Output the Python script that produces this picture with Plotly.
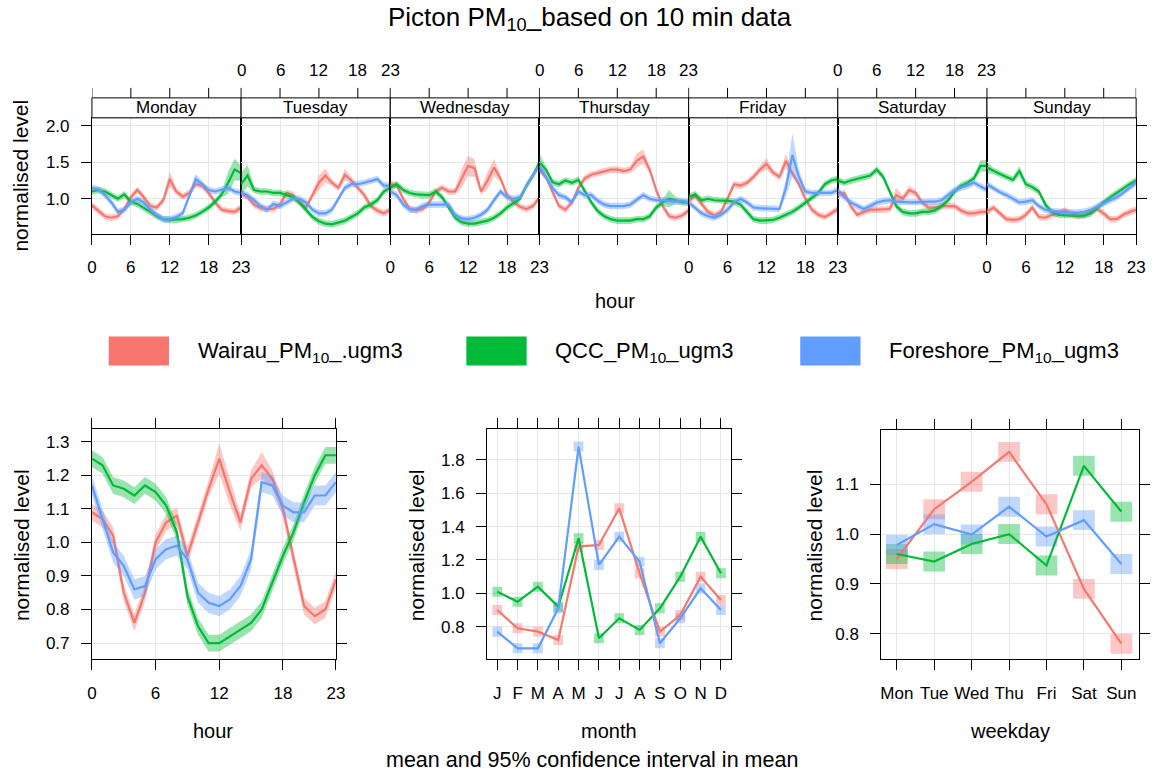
import plotly.graph_objects as go

# ---------------- DATA ----------------
days = ["Monday", "Tuesday", "Wednesday", "Thursday", "Friday", "Saturday", "Sunday"]
hours = list(range(24))
hour_ticks = [0, 6, 12, 18, 23]
series_names = ["Wairau_PM<sub>10</sub>_.ugm3", "QCC_PM<sub>10</sub>_ugm3", "Foreshore_PM<sub>10</sub>_ugm3"]

# day x hour means (Mon..Sun, 24 h each)
wairau_dayhour = [
    0.91, 0.83, 0.76, 0.74, 0.76, 0.86, 1.02, 1.12, 1.02, 0.90, 0.88, 0.98, 1.27, 1.10, 1.03, 1.08, 1.20, 1.18, 1.08, 0.95, 0.85, 0.83, 0.82, 0.88,
    1.08, 1.02, 0.92, 0.87, 0.86, 0.86, 0.92, 1.08, 1.05, 0.95, 0.88, 1.05, 1.22, 1.32, 1.22, 1.15, 1.33, 1.25, 1.15, 1.05, 0.90, 0.84, 0.80, 0.85,
    1.20, 1.18, 1.00, 0.86, 0.84, 0.86, 0.95, 1.10, 1.15, 1.10, 1.10, 1.28, 1.45, 1.42, 1.10, 1.25, 1.43, 1.28, 1.05, 0.96, 0.89, 0.86, 0.90, 1.02,
    1.40, 1.30, 1.10, 0.90, 0.85, 0.95, 1.15, 1.28, 1.33, 1.35, 1.38, 1.40, 1.40, 1.38, 1.40, 1.52, 1.58, 1.40, 1.12, 0.90, 0.76, 0.74, 0.77, 0.84,
    0.97, 1.04, 0.93, 0.82, 0.77, 0.82, 1.00, 1.20, 1.18, 1.22, 1.30, 1.40, 1.48, 1.36, 1.30, 1.52, 1.35, 1.20, 1.00, 0.85, 0.78, 0.75, 0.80, 0.86,
    1.05, 1.08, 0.90, 0.78, 0.82, 0.85, 0.85, 0.85, 0.86, 1.05, 1.00, 1.12, 1.08, 0.95, 0.88, 0.88, 0.90, 0.90, 0.90, 0.84, 0.80, 0.80, 0.82, 0.82,
    0.82, 0.88, 0.80, 0.72, 0.71, 0.72, 0.78, 0.88, 0.75, 0.74, 0.78, 0.80, 0.84, 0.80, 0.76, 0.78, 0.82, 0.86, 0.80, 0.72, 0.72, 0.78, 0.82, 0.85,
]
qcc_dayhour = [
    1.10, 1.12, 1.10, 1.05, 1.00, 1.06, 0.96, 0.93, 0.88, 0.82, 0.76, 0.72, 0.71, 0.71, 0.72, 0.74, 0.77, 0.82, 0.88, 0.96, 1.06, 1.22, 1.40, 1.35,
    1.20, 1.32, 1.12, 1.10, 1.10, 1.08, 1.08, 1.05, 1.02, 0.95, 0.85, 0.75, 0.69, 0.66, 0.65, 0.67, 0.70, 0.75, 0.80, 0.88, 0.92, 0.98, 1.10, 1.15,
    1.15, 1.20, 1.12, 1.08, 1.06, 1.05, 1.05, 1.10, 1.02, 0.88, 0.74, 0.68, 0.66, 0.66, 0.68, 0.70, 0.74, 0.80, 0.88, 0.94, 1.00, 1.18, 1.32, 1.50,
    1.50, 1.40, 1.23, 1.20, 1.25, 1.22, 1.26, 1.10, 0.95, 0.83, 0.76, 0.72, 0.70, 0.70, 0.70, 0.72, 0.72, 0.76, 0.88, 0.95, 1.00, 0.98, 0.95, 0.95,
    1.02, 1.06, 0.98, 1.00, 0.98, 0.98, 0.97, 0.96, 0.92, 0.82, 0.72, 0.70, 0.70, 0.71, 0.74, 0.78, 0.82, 0.88, 0.95, 1.02, 1.08, 1.20, 1.25, 1.27,
    1.25, 1.22, 1.25, 1.27, 1.30, 1.32, 1.40, 1.30, 1.10, 0.90, 0.82, 0.80, 0.80, 0.82, 0.82, 0.84, 0.90, 0.98, 1.10, 1.18, 1.22, 1.28, 1.45, 1.45,
    1.43, 1.38, 1.34, 1.30, 1.26, 1.38, 1.20, 1.16, 1.10, 0.92, 0.82, 0.78, 0.77, 0.77, 0.77, 0.77, 0.80, 0.88, 0.95, 1.02, 1.08, 1.15, 1.20, 1.25,
]
foreshore_dayhour = [
    1.15, 1.13, 1.05, 0.95, 0.82, 0.85, 0.95, 1.00, 0.95, 0.85, 0.78, 0.72, 0.72, 0.75, 0.80, 1.05, 1.27, 1.20, 1.12, 1.10, 1.12, 1.15, 1.10, 1.08,
    1.08, 1.05, 0.98, 0.90, 0.85, 0.93, 0.90, 0.95, 1.00, 1.00, 0.95, 0.85, 0.80, 0.80, 0.85, 1.00, 1.15, 1.20, 1.20, 1.22, 1.25, 1.27, 1.18, 1.18,
    1.10, 1.05, 0.92, 0.85, 0.85, 0.90, 0.92, 0.92, 0.92, 0.92, 0.78, 0.73, 0.72, 0.74, 0.78, 0.85, 0.98, 1.10, 1.02, 1.00, 1.02, 1.18, 1.32, 1.45,
    1.45, 1.30, 1.15, 1.05, 1.02, 0.95, 1.10, 1.05, 1.05, 0.97, 0.92, 0.90, 0.90, 0.90, 0.92, 0.98, 1.05, 1.00, 0.98, 0.98, 0.97, 0.96, 0.97, 0.95,
    0.95, 0.88, 0.80, 0.76, 0.74, 0.78, 0.85, 0.95, 1.00, 0.95, 0.88, 0.87, 0.87, 0.87, 0.86, 1.15, 1.60, 1.30, 1.10, 1.08, 1.08, 1.08, 1.08, 1.12,
    1.12, 1.02, 0.95, 0.90, 0.86, 0.90, 0.95, 0.97, 0.98, 0.96, 0.95, 0.95, 0.95, 0.96, 0.96, 0.96, 0.98, 1.05, 1.12, 1.15, 1.18, 1.22, 1.17, 1.12,
    1.20, 1.14, 1.09, 1.05, 1.00, 0.95, 0.96, 0.98, 0.90, 0.85, 0.83, 0.82, 0.81, 0.81, 0.81, 0.82, 0.85, 0.90, 0.94, 0.98, 1.02, 1.08, 1.15, 1.22,
]
# 95% CI half widths for the day x hour panel: typical value + wider points (index = day*24 + hour)
dayhour_ci_base = [0.045, 0.045, 0.045]
wairau_dayhour_ci_wide = {12: 0.10, 36: 0.10, 37: 0.10, 40: 0.08, 59: 0.13, 60: 0.14, 61: 0.12, 63: 0.12, 64: 0.12,
                          87: 0.10, 88: 0.10, 108: 0.08, 111: 0.10, 129: 0.10, 131: 0.06}
qcc_dayhour_ci_wide = {21: 0.15, 22: 0.15, 23: 0.10, 24: 0.15, 25: 0.15, 72: 0.12, 92: 0.12, 142: 0.08, 143: 0.08,
                       144: 0.08, 149: 0.07}
foreshore_dayhour_ci_wide = {16: 0.07, 72: 0.08, 111: 0.12, 112: 0.30, 113: 0.10}

# hour panel
wairau_hour = [1.09, 1.07, 1.02, 0.85, 0.76, 0.85, 1.00, 1.06, 1.08, 0.96, 1.06, 1.16, 1.25, 1.15, 1.06, 1.19, 1.23, 1.19, 1.10, 0.95, 0.81, 0.78, 0.80, 0.89]
qcc_hour = [1.25, 1.23, 1.17, 1.16, 1.14, 1.17, 1.15, 1.11, 1.03, 0.84, 0.75, 0.70, 0.70, 0.72, 0.74, 0.76, 0.80, 0.88, 0.96, 1.03, 1.12, 1.20, 1.26, 1.26]
foreshore_hour = [1.17, 1.07, 0.97, 0.93, 0.86, 0.87, 0.95, 0.98, 0.99, 0.95, 0.85, 0.82, 0.81, 0.83, 0.87, 0.95, 1.18, 1.17, 1.11, 1.09, 1.09, 1.14, 1.14, 1.18]
hour_ci_base = [0.025, 0.025, 0.03]
wairau_hour_ci_wide = {12: 0.045, 13: 0.04, 16: 0.04}

# month panel
months = ["J", "F", "M", "A", "M", "J", "J", "A", "S", "O", "N", "D"]
wairau_month = [0.90, 0.79, 0.77, 0.72, 1.28, 1.29, 1.51, 1.12, 0.77, 0.87, 1.10, 0.96]
qcc_month = [1.01, 0.95, 1.04, 0.92, 1.33, 0.73, 0.85, 0.78, 0.91, 1.10, 1.34, 1.12]
foreshore_month = [0.77, 0.67, 0.67, 0.91, 1.88, 1.17, 1.34, 1.19, 0.70, 0.85, 1.03, 0.90]
month_ci = [0.03, 0.03, 0.03]

# weekday panel
weekdays = ["Mon", "Tue", "Wed", "Thu", "Fri", "Sat", "Sun"]
wairau_weekday = [0.95, 1.05, 1.105, 1.165, 1.06, 0.89, 0.78]
qcc_weekday = [0.96, 0.945, 0.98, 1.00, 0.937, 1.137, 1.045]
foreshore_weekday = [0.978, 1.02, 0.999, 1.055, 0.995, 1.028, 0.94]
weekday_ci = [0.02, 0.02, 0.02]

# ---------------- STYLE ----------------
W, H = 1157, 776
COLORS = [(248, 118, 109), (0, 186, 56), (97, 156, 255)]
FONT = "Liberation Sans, Arial, sans-serif"
TICK = 17


def fx(p):
    return p / W


def fy(p):
    return 1 - p / H


def col(c, a=1.0):
    return f"rgba({c[0]},{c[1]},{c[2]},{a})"


fig = go.Figure()


def add_band_line(xs, mean, hw, c, xa, ya):
    lo = [m - h for m, h in zip(mean, hw)]
    hi = [m + h for m, h in zip(mean, hw)]
    fig.add_trace(go.Scatter(x=list(xs) + list(xs)[::-1], y=hi + lo[::-1], fill="toself",
                             fillcolor=col(c, 0.4), line=dict(width=0), mode="lines",
                             xaxis=xa, yaxis=ya, hoverinfo="skip"))
    fig.add_trace(go.Scatter(x=list(xs), y=list(mean), mode="lines", line=dict(color=col(c), width=2.2),
                             xaxis=xa, yaxis=ya))


def add_rects_line(xs, mean, hw, c, xa, ya, width):
    lo = [m - h for m, h in zip(mean, hw)]
    fig.add_trace(go.Bar(x=list(xs), y=[2 * h for h in hw], base=lo, width=width,
                         marker=dict(color=col(c, 0.4), line=dict(width=0)), xaxis=xa, yaxis=ya))
    fig.add_trace(go.Scatter(x=list(xs), y=list(mean), mode="lines", line=dict(color=col(c), width=2.2),
                             xaxis=xa, yaxis=ya))


def label(text, x, y, size, angle=0, xanchor="center", xref="paper"):
    return dict(text=text, xref=xref, yref="paper", x=x, y=y, textangle=angle, showarrow=False,
                xanchor=xanchor, yanchor="middle", font=dict(size=size))


base_axis = dict(showline=True, linecolor="black", linewidth=1, mirror=True, showgrid=True,
                 gridcolor="#E6E6E6", gridwidth=1, zeroline=False, ticks="outside", ticklen=10,
                 tickcolor="black", tickwidth=1, tickfont=dict(size=TICK, color="black", family=FONT),
                 ticklabelstandoff=8)

layout = dict(width=W, height=H, margin=dict(l=0, r=0, t=0, b=0), paper_bgcolor="white",
              plot_bgcolor="white", showlegend=False, barmode="overlay",
              font=dict(family=FONT, color="black"))

shapes = []
annotations = []

# ---------- top panel: day x hour ----------
dh_series = [wairau_dayhour, qcc_dayhour, foreshore_dayhour]
dh_wide = [wairau_dayhour_ci_wide, qcc_dayhour_ci_wide, foreshore_dayhour_ci_wide]
panel_w = 151
for i, day in enumerate(days):
    sfx = "" if i == 0 else str(i + 1)
    xa, ya = "x" + sfx, "y" + sfx
    x0 = 88 + panel_w * i
    layout["xaxis" + sfx] = dict(base_axis, domain=[fx(x0), fx(x0 + panel_w)], range=[0, 23],
                                 tickvals=hour_ticks, showticklabels=(i % 2 == 0), anchor=ya)
    yax = dict(base_axis, domain=[fy(233), fy(117)], range=[0.521, 2.11], tickvals=[1.0, 1.5, 2.0],
               tickformat=".1f", anchor=xa, showticklabels=(i == 0))
    if 0 < i < 6:
        yax["ticks"] = ""
    if i == 6:
        yax["side"] = "right"
    layout["yaxis" + sfx] = yax
    for s in range(3):
        vals = dh_series[s][24 * i:24 * (i + 1)]
        hw = [dh_wide[s].get(24 * i + h, dayhour_ci_base[s]) for h in hours]
        add_band_line(hours, vals, hw, COLORS[s], xa, ya)
    # strip
    shapes.append(dict(type="rect", xref=xa + " domain", x0=0, x1=1, yref="paper", y0=fy(117), y1=fy(97),
                       line=dict(color="black", width=1), fillcolor="white"))
    annotations.append(label(day, 0.5, fy(107), 17, xref=xa + " domain"))
    # ticks above strip
    for t in hour_ticks:
        shapes.append(dict(type="line", xref=xa, x0=t, x1=t, yref="paper", y0=fy(97), y1=fy(87),
                           line=dict(color="black", width=1)))
        if i % 2 == 1:
            annotations.append(label(str(t), t, fy(70), TICK, xref=xa))

annotations.append(label("normalised level", fx(16), fy(175), 21, angle=-90))
annotations.append(label("hour", fx(617), fy(300), 20))

# ---------- legend ----------
leg_rect_x = [105, 467, 805]
for s in range(3):
    shapes.append(dict(type="rect", xref="paper", yref="paper", x0=fx(leg_rect_x[s]), x1=fx(leg_rect_x[s] + 61),
                       y0=fy(365), y1=fy(336), fillcolor=col(COLORS[s]), line=dict(width=0)))
    annotations.append(label(series_names[s], fx(leg_rect_x[s] + 88), fy(351), 22, xanchor="left"))

# ---------- hour panel ----------
hour_series = [wairau_hour, qcc_hour, foreshore_hour]
layout["xaxis8"] = dict(base_axis, domain=[fx(88), fx(335)], range=[0, 23], tickvals=hour_ticks,
                        anchor="y8", mirror="ticks")
layout["yaxis8"] = dict(base_axis, domain=[fy(659), fy(429)], range=[0.652, 1.337],
                        tickvals=[0.7, 0.8, 0.9, 1.0, 1.1, 1.2, 1.3], tickformat=".1f", anchor="x8",
                        mirror="ticks")
for s in range(3):
    hw = [(wairau_hour_ci_wide.get(h, hour_ci_base[s]) if s == 0 else hour_ci_base[s]) for h in hours]
    add_band_line(hours, hour_series[s], hw, COLORS[s], "x8", "y8")

# ---------- month panel ----------
month_series = [wairau_month, qcc_month, foreshore_month]
month_x = list(range(1, 13))
layout["xaxis9"] = dict(base_axis, domain=[fx(488), fx(735)], range=[0.5, 12.5], tickvals=month_x,
                        ticktext=months, anchor="y9", mirror="ticks")
layout["yaxis9"] = dict(base_axis, domain=[fy(659), fy(429)], range=[0.605, 1.983],
                        tickvals=[0.8, 1.0, 1.2, 1.4, 1.6, 1.8], tickformat=".1f", anchor="x9",
                        mirror="ticks")
for s in range(3):
    add_rects_line(month_x, month_series[s], [month_ci[s]] * 12, COLORS[s], "x9", "y9", 0.48)

# ---------- weekday panel ----------
weekday_series = [wairau_weekday, qcc_weekday, foreshore_weekday]
wd_x = list(range(1, 8))
layout["xaxis10"] = dict(base_axis, domain=[fx(887), fx(1148)], range=[0.585, 7.475], tickvals=wd_x,
                         ticktext=weekdays, anchor="y10", mirror="ticks")
layout["yaxis10"] = dict(base_axis, domain=[fy(659), fy(430)], range=[0.749, 1.208],
                         tickvals=[0.8, 0.9, 1.0, 1.1], tickformat=".1f", anchor="x10", mirror="ticks")
for s in range(3):
    add_rects_line(wd_x, weekday_series[s], [weekday_ci[s]] * 7, COLORS[s], "x10", "y10", 0.58)

for (txt, x, y) in [("normalised level", 16, 545), ("normalised level", 416, 545), ("normalised level", 819, 545)]:
    annotations.append(label(txt, fx(x), fy(y), 21, angle=-90))
for (txt, x, y) in [("hour", 211, 731), ("month", 611, 731), ("weekday", 1017, 731)]:
    annotations.append(label(txt, fx(x), fy(y), 20))
annotations.append(label("mean and 95% confidence interval in mean", fx(594), fy(760), 21.5))
annotations.append(label("Picton PM<sub>10</sub>_based on 10 min data", fx(592), fy(18), 26))

layout["shapes"] = shapes
layout["annotations"] = annotations
fig.update_layout(**layout)
fig.write_html("out.html")
